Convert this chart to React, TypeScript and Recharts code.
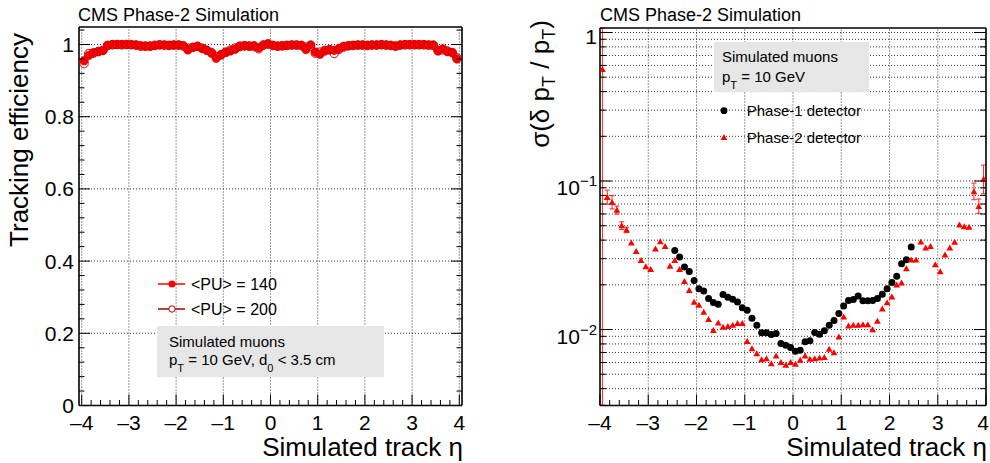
import React from 'react'
import { ScatterChart, Scatter, XAxis, YAxis, ReferenceLine, ErrorBar } from 'recharts'

const FONT = '"Liberation Sans", Arial, Helvetica, sans-serif'

// 0.1-wide eta bins, bin centres
const etaBins = [
  -3.95, -3.85, -3.75, -3.65, -3.55, -3.45, -3.35, -3.25, -3.15, -3.05,
  -2.95, -2.85, -2.75, -2.65, -2.55, -2.45, -2.35, -2.25, -2.15, -2.05,
  -1.95, -1.85, -1.75, -1.65, -1.55, -1.45, -1.35, -1.25, -1.15, -1.05,
  -0.95, -0.85, -0.75, -0.65, -0.55, -0.45, -0.35, -0.25, -0.15, -0.05,
  0.05, 0.15, 0.25, 0.35, 0.45, 0.55, 0.65, 0.75, 0.85, 0.95,
  1.05, 1.15, 1.25, 1.35, 1.45, 1.55, 1.65, 1.75, 1.85, 1.95,
  2.05, 2.15, 2.25, 2.35, 2.45, 2.55, 2.65, 2.75, 2.85, 2.95,
  3.05, 3.15, 3.25, 3.35, 3.45, 3.55, 3.65, 3.75, 3.85, 3.95,
]

const effPU140 = [
  0.955, 0.970, 0.977, 0.981, 0.983, 0.998, 1.0, 1.0, 1.0, 1.0,
  0.999, 0.999, 0.997, 0.996, 0.995, 0.997, 0.999, 0.999, 0.998, 0.999,
  0.999, 0.997, 0.985, 0.992, 0.995, 0.989, 0.984, 0.976, 0.962, 0.971,
  0.978, 0.982, 0.987, 0.994, 0.996, 0.995, 0.997, 0.991, 0.999, 1.002,
  0.998, 0.996, 0.997, 0.998, 0.999, 0.999, 0.998, 0.986, 0.999, 0.979,
  0.973, 0.982, 0.985, 0.984, 0.989, 0.995, 0.997, 0.998, 0.999, 0.999,
  0.998, 0.999, 0.999, 1.0, 0.999, 0.998, 0.996, 0.999, 1.0, 1.0,
  1.0, 1.0, 1.0, 0.999, 0.999, 0.982, 0.988, 0.980, 0.978, 0.960,
]

const effPU200 = [
  0.947, 0.975, 0.976, 0.980, 0.984, 0.997, 0.999, 1.0, 0.999, 1.0,
  1.0, 0.998, 0.995, 0.995, 0.996, 0.998, 0.999, 0.998, 0.997, 0.998,
  0.998, 0.996, 0.990, 0.992, 0.995, 0.990, 0.984, 0.978, 0.967, 0.972,
  0.979, 0.985, 0.990, 0.996, 0.997, 0.996, 0.994, 0.988, 0.998, 1.001,
  0.997, 0.995, 0.996, 0.997, 0.998, 0.998, 0.997, 0.993, 0.995, 0.976,
  0.979, 0.984, 0.986, 0.975, 0.986, 0.993, 0.996, 0.997, 0.998, 0.998,
  0.997, 0.998, 0.998, 0.999, 0.998, 0.997, 0.995, 0.998, 0.999, 0.999,
  0.999, 0.999, 0.999, 0.998, 0.997, 0.984, 0.985, 0.982, 0.977, 0.963,
]

// Phase-1 only covers |eta| < 2.5
const phase1Eta = etaBins.slice(15, 65)
const resPhase1 = [
  0.0340, 0.0308, 0.0264, 0.0246, 0.0214, 0.0188, 0.0182, 0.0162, 0.0152, 0.0148,
  0.0172, 0.0165, 0.0160, 0.0153, 0.0140, 0.0135, 0.0119, 0.0107, 0.0095, 0.0095,
  0.00925, 0.0094, 0.00805, 0.00785, 0.00757, 0.00715, 0.00726, 0.00827, 0.0084, 0.00955,
  0.0093, 0.0098, 0.0107, 0.0115, 0.0128, 0.0144, 0.0157, 0.0159, 0.0168, 0.0156,
  0.0156, 0.0157, 0.0162, 0.0173, 0.0188, 0.0207, 0.0228, 0.0277, 0.0295, 0.0359,
]

const resPhase2 = [
  0.565, 0.0778, 0.0719, 0.0638, 0.0501, 0.0469, 0.0384, 0.0336, 0.0292, 0.0266,
  0.0254, 0.0350, 0.0391, 0.0364, 0.0268, 0.0292, 0.0254, 0.0211, 0.0184, 0.0153,
  0.0146, 0.0131, 0.0117, 0.0099, 0.0111, 0.0104, 0.0105, 0.0107, 0.0110, 0.0110,
  0.00834, 0.00745, 0.0069, 0.00629, 0.00638, 0.00591, 0.00666, 0.00601, 0.00576, 0.00601,
  0.00585, 0.00622, 0.00666, 0.00632, 0.00638, 0.00645, 0.0065, 0.00738, 0.00701, 0.00893,
  0.0122, 0.0106, 0.0107, 0.0107, 0.0108, 0.0108, 0.0100, 0.0114, 0.0138, 0.0152,
  0.0166, 0.0200, 0.0206, 0.0257, 0.0295, 0.0295, 0.0390, 0.0355, 0.0364, 0.0274,
  0.0246, 0.0319, 0.0355, 0.0388, 0.0507, 0.0493, 0.0489, 0.0848, 0.0676, 0.103,
]

// visible error bars only (first bin is huge, spans the whole axis)
const errPhase2Low = [
  0.5619, 0.008, 0.007, 0.004, 0.003, 0.002, 0, 0, 0, 0,
  0, 0, 0, 0, 0, 0, 0, 0, 0, 0,
  0, 0, 0, 0, 0, 0, 0, 0, 0, 0,
  0, 0, 0, 0, 0, 0, 0, 0, 0, 0,
  0, 0, 0, 0, 0, 0, 0, 0, 0, 0,
  0, 0, 0, 0, 0, 0, 0, 0, 0, 0,
  0, 0, 0, 0, 0, 0, 0, 0, 0, 0,
  0, 0, 0, 0, 0, 0, 0, 0.010, 0.007, 0.021,
]
const errPhase2High = [
  0.507, 0.009, 0.008, 0.004, 0.003, 0.002, 0, 0, 0, 0,
  0, 0, 0, 0, 0, 0, 0, 0, 0, 0,
  0, 0, 0, 0, 0, 0, 0, 0, 0, 0,
  0, 0, 0, 0, 0, 0, 0, 0, 0, 0,
  0, 0, 0, 0, 0, 0, 0, 0, 0, 0,
  0, 0, 0, 0, 0, 0, 0, 0, 0, 0,
  0, 0, 0, 0, 0, 0, 0, 0, 0, 0,
  0, 0, 0, 0, 0, 0, 0, 0.012, 0.008, 0.025,
]

const etaTicks = [
  -4, -3.8, -3.6, -3.4, -3.2, -3, -2.8, -2.6, -2.4, -2.2, -2, -1.8, -1.6, -1.4, -1.2,
  -1, -0.8, -0.6, -0.4, -0.2, 0, 0.2, 0.4, 0.6, 0.8, 1, 1.2, 1.4, 1.6, 1.8, 2,
  2.2, 2.4, 2.6, 2.8, 3, 3.2, 3.4, 3.6, 3.8, 4,
]
const etaMajor = [-4, -3, -2, -1, 0, 1, 2, 3, 4]
const etaGrid = [-3, -2, -1, 0, 1, 2, 3]
const effTicks = [
  0, 0.04, 0.08, 0.12, 0.16, 0.2, 0.24, 0.28, 0.32, 0.36, 0.4, 0.44, 0.48, 0.52,
  0.56, 0.6, 0.64, 0.68, 0.72, 0.76, 0.8, 0.84, 0.88, 0.92, 0.96, 1, 1.04,
]
const effMajor = [0, 0.2, 0.4, 0.6, 0.8, 1]
const resTicks = [
  0.004, 0.005, 0.006, 0.007, 0.008, 0.009, 0.01, 0.02, 0.03, 0.04, 0.05, 0.06,
  0.07, 0.08, 0.09, 0.1, 0.2, 0.3, 0.4, 0.5, 0.6, 0.7, 0.8, 0.9, 1,
]
const resMajor = [0.01, 0.1, 1]
const resExp: Record<string, string> = { '0.01': '\u22122', '0.1': '\u22121' }

const eff140 = etaBins.map((eta, i) => ({ eta, eff: effPU140[i] }))
const eff200 = etaBins.map((eta, i) => ({ eta, eff: effPU200[i] }))
const res1 = phase1Eta.map((eta, i) => ({ eta, res: resPhase1[i] }))
const res2 = etaBins.map((eta, i) => ({ eta, res: resPhase2[i], err: [errPhase2Low[i], errPhase2High[i]] }))
const res2Err = res2.filter((d) => d.err[0] > 0)

const near = (v: number, list: number[]) => list.some((m) => Math.abs(m - v) < 1e-9)
const fmtEta = (v: number) => (v < 0 ? '\u2013' + Math.abs(v) : String(v))

// ROOT style: ticks point into the frame, labels outside
function hTick(side: 'bottom' | 'top', labels: boolean, maxX = 9999) {
  return (p: any) => {
    const v = p.payload.value
    const major = near(v, etaMajor)
    const len = major ? 11 : 5.5
    return (
      <g>
        <line x1={p.x} x2={p.x} y1={p.y} y2={side === 'bottom' ? p.y - len : p.y + len} stroke="#000" />
        {labels && major && (
          <text x={Math.min(p.x, maxX)} y={p.y + 24.5} textAnchor="middle" fontSize={21} fontFamily={FONT} fill="#000">
            {fmtEta(v)}
          </text>
        )}
      </g>
    )
  }
}

function effTick(side: 'left' | 'right') {
  return (p: any) => {
    const v = p.payload.value
    const major = near(v, effMajor)
    const len = major ? 11 : 5.5
    return (
      <g>
        <line x1={p.x} x2={side === 'left' ? p.x + len : p.x - len} y1={p.y} y2={p.y} stroke="#000" />
        {side === 'left' && major && (
          <text x={p.x - 5} y={p.y + 7.5} textAnchor="end" fontSize={21} fontFamily={FONT} fill="#000">
            {String(v)}
          </text>
        )}
      </g>
    )
  }
}

function resTick(side: 'left' | 'right') {
  return (p: any) => {
    const v = p.payload.value
    const major = near(v, resMajor)
    const len = major ? 12 : 6
    let label = null
    if (side === 'left' && major) {
      label =
        v === 1 ? (
          <text x={p.x - 3} y={p.y + 11.5} textAnchor="end" fontSize={21} fontFamily={FONT} fill="#000">1</text>
        ) : (
          <text x={p.x - 3} y={p.y + 14} textAnchor="end" fontSize={21} fontFamily={FONT} fill="#000">
            10<tspan dy={-9} fontSize={15}>{resExp[String(v)]}</tspan>
          </text>
        )
    }
    return (
      <g>
        <line x1={p.x} x2={side === 'left' ? p.x + len : p.x - len} y1={p.y} y2={p.y} stroke="#000" />
        {label}
      </g>
    )
  }
}

const frame = { stroke: '#000', strokeWidth: 1.6 }
const grid = { stroke: '#000', strokeDasharray: '1 2', strokeWidth: 0.8 }

const redDot = (p: any) => <circle cx={p.cx} cy={p.cy} r={4.2} fill="#ff0000" stroke="#e00000" strokeWidth={0.8} />
const openDot = (p: any) => <circle cx={p.cx} cy={p.cy} r={4.2} fill="none" stroke="#d40000" strokeWidth={1} />
const blackDot = (p: any) => <circle cx={p.cx} cy={p.cy} r={3.5} fill="#000" />
const redTri = (p: any) => (
  <polygon
    points={`${p.cx - 3.4},${p.cy + 2.7} ${p.cx + 3.4},${p.cy + 2.7} ${p.cx},${p.cy - 3.3}`}
    fill="#ff0000"
  />
)
const nothing = () => <g />

// axes need a non-zero box to be drawn; margins are reduced by the axis sizes
function EfficiencyPlot() {
  return (
    <ScatterChart width={495} height={463} margin={{ top: 26, left: 19, right: 32, bottom: 27.5 }}>
      <XAxis type="number" dataKey="eta" domain={[-4.057, 4.057]} allowDataOverflow ticks={etaTicks} interval={0}
        height={30} tickSize={0} tickMargin={0} tickLine={false} axisLine={frame} tick={hTick('bottom', true)} />
      <XAxis xAxisId="top" orientation="top" type="number" domain={[-4.057, 4.057]} allowDataOverflow ticks={etaTicks}
        interval={0} height={1} tickSize={0} tickMargin={0} tickLine={false} axisLine={frame} tick={hTick('top', false)} />
      <YAxis type="number" dataKey="eff" domain={[0, 1.0485]} allowDataOverflow ticks={effTicks} interval={0}
        width={60} tickSize={0} tickMargin={0} tickLine={false} axisLine={frame} tick={effTick('left')} />
      <YAxis yAxisId="right" orientation="right" type="number" domain={[0, 1.0485]} allowDataOverflow ticks={effTicks}
        interval={0} width={1} tickSize={0} tickMargin={0} tickLine={false} axisLine={frame} tick={effTick('right')} />
      {etaMajor.map((v) => <ReferenceLine key={'x' + v} x={v} {...grid} />)}
      {effMajor.slice(1).map((v) => <ReferenceLine key={'y' + v} y={v} {...grid} />)}
      <Scatter name="<PU> = 140" data={eff140} shape={redDot} isAnimationActive={false} />
      <Scatter name="<PU> = 200" data={eff200} shape={openDot} isAnimationActive={false} />
    </ScatterChart>
  )
}

function ResolutionPlot() {
  return (
    <ScatterChart width={495} height={463} margin={{ top: 27, left: 45, right: 3, bottom: 27.5 }}>
      <XAxis type="number" dataKey="eta" domain={[-4, 4]} allowDataOverflow ticks={etaTicks} interval={0}
        height={30} tickSize={0} tickMargin={0} tickLine={false} axisLine={frame} tick={hTick('bottom', true, 488)} />
      <XAxis xAxisId="top" orientation="top" type="number" domain={[-4, 4]} allowDataOverflow ticks={etaTicks}
        interval={0} height={1} tickSize={0} tickMargin={0} tickLine={false} axisLine={frame} tick={hTick('top', false)} />
      <YAxis type="number" dataKey="res" scale="log" domain={[0.00308, 1.072]} allowDataOverflow ticks={resTicks}
        interval={0} width={60} tickSize={0} tickMargin={0} tickLine={false} axisLine={frame} tick={resTick('left')} />
      <YAxis yAxisId="right" orientation="right" type="number" scale="log" domain={[0.00308, 1.072]} allowDataOverflow
        ticks={resTicks} interval={0} width={1} tickSize={0} tickMargin={0} tickLine={false} axisLine={frame}
        tick={resTick('right')} />
      {etaGrid.map((v) => <ReferenceLine key={'x' + v} x={v} {...grid} />)}
      {resTicks.map((v) => <ReferenceLine key={'y' + v} y={v} {...grid} />)}
      <Scatter data={res2Err} shape={nothing} isAnimationActive={false}>
        <ErrorBar dataKey="err" direction="y" width={2.5} stroke="#ff2020" strokeWidth={1} />
      </Scatter>
      <Scatter name="Phase-1 detector" data={res1} shape={blackDot} isAnimationActive={false} />
      <Scatter name="Phase-2 detector" data={res2} shape={redTri} isAnimationActive={false} />
    </ScatterChart>
  )
}

function Overlay() {
  const t = { fontFamily: FONT, fill: '#000' }
  return (
    <svg width={990} height={463} style={{ position: 'absolute', left: 0, top: 0, pointerEvents: 'none' }}>
      <text x={78} y={21} fontSize={18} {...t}>CMS Phase-2 Simulation</text>
      <text x={600} y={21} fontSize={18} {...t}>CMS Phase-2 Simulation</text>

      <text transform="translate(28,140) rotate(-90)" textAnchor="middle" fontSize={26} {...t}>Tracking efficiency</text>
      <text transform="translate(549,84) rotate(-90)" textAnchor="middle" fontSize={26} {...t}>
        σ(δ p<tspan dy={6} fontSize={18}>T</tspan>
        <tspan dy={-6}> / p</tspan>
        <tspan dy={6} fontSize={18}>T</tspan>
        <tspan dy={-6}>)</tspan>
      </text>
      <text x={463} y={456} textAnchor="end" fontSize={26} {...t}>Simulated track η</text>
      <text x={987} y={456} textAnchor="end" fontSize={26} {...t}>Simulated track η</text>

      {/* left legend */}
      <line x1={158} x2={185} y1={284} y2={284} stroke="#ff0000" strokeWidth={1.5} />
      <circle cx={172} cy={284} r={3.5} fill="#ff0000" />
      <text x={191} y={289.5} fontSize={16} {...t}>{'<PU> = 140'}</text>
      <line x1={158} x2={185} y1={309} y2={309} stroke="#aa0000" strokeWidth={1.5} />
      <circle cx={172} cy={309} r={3.2} fill="#fff" stroke="#aa0000" strokeWidth={1} />
      <text x={191} y={314.5} fontSize={16} {...t}>{'<PU> = 200'}</text>

      <rect x={157} y={326} width={227} height={51} fill="#e6e6e6" />
      <text x={169} y={346.5} fontSize={15} {...t}>Simulated muons</text>
      <text x={169} y={365} fontSize={15} {...t}>
        p<tspan dy={7} fontSize={11}>T</tspan>
        <tspan dy={-7}> = 10 GeV, d</tspan>
        <tspan dy={7} fontSize={11}>0</tspan>
        <tspan dy={-7}> {'< 3.5 cm'}</tspan>
      </text>

      {/* right box + legend */}
      <rect x={714} y={42} width={155} height={50} fill="#e6e6e6" />
      <text x={722} y={61.7} fontSize={15} {...t}>Simulated muons</text>
      <text x={722} y={81.7} fontSize={15} {...t}>
        p<tspan dy={7} fontSize={11}>T</tspan>
        <tspan dy={-7}> = 10 GeV</tspan>
      </text>
      <circle cx={724} cy={110.7} r={3.4} fill="#000" />
      <text x={746.7} y={116} fontSize={15} {...t}>Phase-1 detector</text>
      <polygon points="720.6,140 727.4,140 724,134" fill="#ff0000" />
      <text x={746.7} y={142.5} fontSize={15} {...t}>Phase-2 detector</text>
    </svg>
  )
}

export default function App() {
  return (
    <div style={{ position: 'absolute', left: 0, top: 0, width: 990, height: 463, background: '#fff' }}>
      <div style={{ position: 'absolute', left: 0, top: 0 }}>
        <EfficiencyPlot />
      </div>
      <div style={{ position: 'absolute', left: 495, top: 0 }}>
        <ResolutionPlot />
      </div>
      <Overlay />
    </div>
  )
}
